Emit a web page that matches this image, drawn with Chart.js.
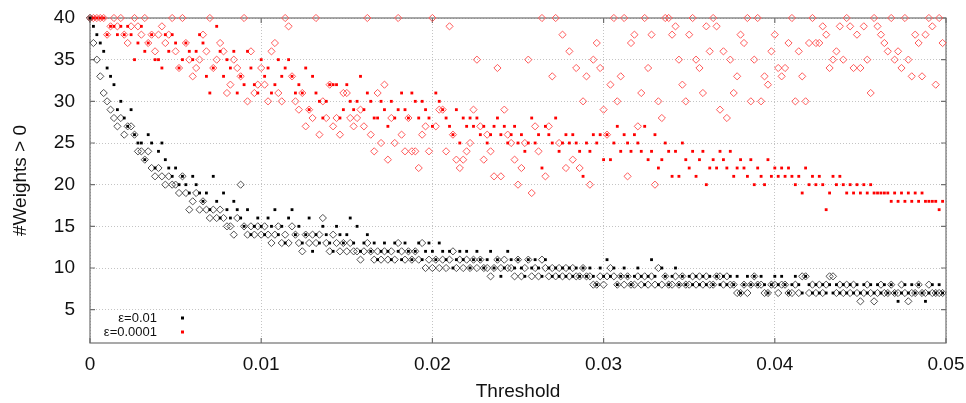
<!DOCTYPE html>
<html>
<head>
<meta charset="utf-8">
<script src="https://cdn.jsdelivr.net/npm/chart.js@4.4.1/dist/chart.umd.min.js"></script>
<style>
  body { margin: 0; background: #fff; }
  canvas { display: block; }
</style>
</head>
<body>
<canvas id="weightsChart" width="966" height="403"></canvas>
<script>
// threshold grid, in units of 0.0001
var thresholdsE4 = [
  0,2,4,6,8,10,12,14,16,18,20,22,24,26,28,30,32,34,36,38,40,42,44,46,48,
  50,52,54,56,58,60,62,64,66,68,70,72,74,76,78,80,82,84,86,88,90,92,94,96,98,
  100,102,104,106,108,110,112,114,116,118,120,122,124,126,128,130,132,134,136,138,140,142,144,146,148,
  150,152,154,156,158,160,162,164,166,168,170,172,174,176,178,180,182,184,186,188,190,192,194,196,198,
  200,202,204,206,208,210,212,214,216,218,220,222,224,226,228,230,232,234,236,238,240,242,244,246,248,
  250,252,254,256,258,260,262,264,266,268,270,272,274,276,278,280,282,284,286,288,290,292,294,296,298,
  300,302,304,306,308,310,312,314,316,318,320,322,324,326,328,330,332,334,336,338,340,342,344,346,348,
  350,352,354,356,358,360,362,364,366,368,370,372,374,376,378,380,382,384,386,388,390,392,394,396,398,
  400,402,404,406,408,410,412,414,416,418,420,422,424,426,428,430,432,434,436,438,440,442,444,446,448,
  450,452,454,456,458,460,462,464,466,468,470,472,474,476,478,480,482,484,486,488,490,492,494,496,498
];

// eps = 0.01 (small squares)
var weightsEps01 = [
  40,39,38,37,36,34,33,32,29,30,28,27,29,26,25,25,23,26,25,22,24,25,23,22,21,
  22,20,21,20,19,21,20,19,18,19,17,21,18,16,19,17,16,18,17,16,15,17,14,15,16,
  15,14,16,15,17,14,15,13,16,17,14,15,13,14,16,12,14,13,15,14,13,12,15,14,13,
  14,16,13,15,12,13,14,12,13,11,12,13,12,11,13,12,11,13,12,11,12,13,11,12,13,
  12,11,13,12,11,12,10,11,12,11,12,10,11,12,11,10,11,12,10,11,9,10,12,11,10,
  11,10,9,11,10,11,10,9,11,10,9,10,9,10,9,10,9,10,9,10,9,10,9,8,10,
  9,11,9,10,8,9,10,9,8,9,10,9,8,9,11,9,8,10,9,8,9,10,8,9,8,
  9,8,9,8,9,8,9,8,9,8,9,8,9,8,9,7,8,9,8,9,8,9,8,7,8,
  9,8,9,8,7,8,9,8,7,9,8,7,8,7,8,7,8,7,8,7,8,7,8,7,8,
  7,8,7,8,7,8,7,8,7,8,7,6,7,8,7,8,7,8,7,6,7,8,7,8,7
];
// eps = 0.01 (open diamonds)
var weightsEps01b = [
  40,37,35,33,31,30,29,28,27,28,26,27,27,26,24,24,23,24,22,21,22,21,20,21,20,
  20,19,21,19,17,18,19,17,18,17,16,17,16,17,16,15,15,14,16,20,15,14,15,14,15,
  14,15,14,13,14,15,13,14,13,15,14,13,12,14,13,14,13,14,16,13,12,14,13,12,13,
  12,13,12,12,11,12,13,12,11,12,11,12,11,12,11,13,12,11,12,11,12,11,13,10,11,
  10,11,10,11,10,11,12,10,11,10,11,10,11,10,11,10,10,9,10,11,10,11,10,10,9,
  11,9,10,11,9,10,9,11,10,9,10,9,10,9,10,9,10,9,9,10,9,9,8,8,9,
  8,9,10,9,8,9,8,9,8,8,9,8,9,8,9,8,10,8,9,8,8,9,8,9,8,
  8,9,8,9,8,9,8,8,9,9,8,9,8,8,7,7,8,7,8,9,8,8,7,7,8,
  8,7,8,8,7,7,8,7,9,9,7,8,7,8,7,8,9,9,7,8,7,8,7,8,7,
  6,7,8,7,6,7,8,7,7,8,7,7,8,7,6,7,7,8,7,7,8,7,7,7,7
];
// eps = 0.0001 (small squares)
var weightsEps0001 = [
  40,40,40,40,40,38,39,39,38,39,38,39,38,35,37,39,36,37,38,35,35,34,38,36,38,
  37,34,35,37,36,35,36,38,37,33,31,34,39,36,33,35,34,36,31,33,32,36,34,32,31,
  35,33,34,31,32,35,33,34,35,33,31,32,31,34,29,33,31,30,28,30,32,32,32,28,29,
  32,30,29,30,33,29,31,30,28,28,30,29,27,30,28,29,31,29,28,31,30,28,30,29,28,
  27,31,30,29,28,27,26,29,25,28,27,28,27,28,26,27,25,26,27,28,26,27,25,26,27,
  25,26,24,25,28,25,26,22,27,26,25,28,24,25,26,25,26,25,24,21,25,24,26,25,26,
  23,26,23,25,27,24,26,25,24,26,25,24,27,23,24,26,22,23,25,24,21,24,21,25,23,
  22,24,21,23,24,20,22,23,22,24,23,22,24,21,22,23,22,21,23,20,22,21,20,23,21,
  22,21,22,21,22,21,20,21,19,22,20,21,20,21,20,17,19,21,20,21,20,19,20,19,20,
  19,20,19,20,19,19,19,19,19,18,19,18,19,18,19,18,19,18,19,18,18,18,18,17,18
];
// eps = 0.0001 (open diamonds)
var weightsEps0001b = [
  40,40,40,40,40,38,39,40,39,40,38,37,39,40,39,38,40,37,38,36,38,39,37,38,40,
  36,34,40,37,35,33,34,35,38,36,40,34,35,37,36,31,32,35,34,33,40,30,36,31,32,
  34,32,30,36,37,31,30,40,39,33,30,29,31,27,29,28,40,26,30,28,32,27,28,26,31,
  31,28,27,28,29,27,40,26,24,31,25,32,23,28,25,40,26,24,28,24,24,22,26,27,24,
  40,27,29,29,24,39,26,23,22,23,24,25,29,35,27,23,26,24,21,34,21,29,26,25,23,
  20,22,25,35,19,27,24,40,21,27,33,40,25,38,22,36,23,34,22,30,33,20,35,37,34,
  29,26,32,40,30,33,40,21,37,38,27,31,40,34,38,20,30,28,40,40,38,39,35,32,30,
  38,40,35,34,31,39,36,40,39,29,36,28,35,31,33,38,37,40,30,35,40,30,33,32,36,
  38,34,33,34,37,40,30,36,33,30,37,40,37,37,39,38,34,35,36,39,35,40,39,34,38,
  34,39,35,31,40,39,38,37,36,40,35,36,34,40,35,33,38,37,33,38,40,39,32,40,37
];

var xTicks = [0, 0.01, 0.02, 0.03, 0.04, 0.05];
var yTicks = [5, 10, 15, 20, 25, 30, 35, 40];

var toPoints = function(ys) {
  return ys.map(function(y, i) {
    return { x: thresholdsE4[i] / 10000, y: y };
  });
};

var frameColor = "#707070";

// gnuplot style box with inward ticks on all four sides
var framePlugin = {
  id: "frame",
  beforeDatasetsDraw: function(chart) {
    var ctx = chart.ctx, a = chart.chartArea;
    var xs = chart.scales.x, ys = chart.scales.y;
    ctx.save();
    ctx.strokeStyle = frameColor;
    ctx.lineWidth = 1.2;
    ctx.strokeRect(a.left, a.top, a.right - a.left, a.bottom - a.top);
    ctx.beginPath();
    xTicks.forEach(function(v) {
      var px = xs.getPixelForValue(v);
      ctx.moveTo(px, a.bottom); ctx.lineTo(px, a.bottom - 5);
      ctx.moveTo(px, a.top); ctx.lineTo(px, a.top + 5);
    });
    yTicks.forEach(function(v) {
      var py = ys.getPixelForValue(v);
      ctx.moveTo(a.left, py); ctx.lineTo(a.left + 5, py);
      ctx.moveTo(a.right, py); ctx.lineTo(a.right - 5, py);
    });
    ctx.stroke();
    ctx.restore();
  }
};

// key in the lower left corner: label then marker
var keyPlugin = {
  id: "key",
  afterDatasetsDraw: function(chart) {
    var ctx = chart.ctx, a = chart.chartArea;
    ctx.save();
    ctx.font = '13px "Liberation Sans", Arial, sans-serif';
    ctx.textAlign = "right";
    ctx.textBaseline = "middle";
    var row = 0;
    chart.data.datasets.forEach(function(ds) {
      if (!ds.inKey) return;
      var y = a.bottom - 25 + row * 14;
      ctx.fillStyle = "#111";
      ctx.fillText(ds.label, a.left + 67, y);
      ctx.fillStyle = ds.backgroundColor;
      ctx.fillRect(a.left + 91, y - 1.5, 3, 3);
      row++;
    });
    ctx.restore();
  }
};

Chart.defaults.font.family = '"Liberation Sans", Arial, sans-serif';
Chart.defaults.color = "#111";

var ctx = document.getElementById("weightsChart");
var weightsChart = new Chart(ctx, {
  type: "scatter",
  data: {
    datasets: [
      {
        label: "\u03b5=0.01",
        inKey: true,
        data: toPoints(weightsEps01),
        pointStyle: "rect",
        pointRadius: 2,
        pointBorderWidth: 0,
        backgroundColor: "#000000",
        borderColor: "#000000",
        clip: false
      },
      {
        label: "\u03b5=0.0001",
        inKey: true,
        data: toPoints(weightsEps0001),
        pointStyle: "rect",
        pointRadius: 2,
        pointBorderWidth: 0,
        backgroundColor: "#ff0000",
        borderColor: "#ff0000",
        clip: false
      },
      {
        label: "\u03b5=0.01 (b)",
        data: toPoints(weightsEps01b),
        pointStyle: "rectRot",
        pointRadius: 3.6,
        pointBorderWidth: 1,
        backgroundColor: "rgba(0,0,0,0)",
        borderColor: "#505050",
        clip: false
      },
      {
        label: "\u03b5=0.0001 (b)",
        data: toPoints(weightsEps0001b),
        pointStyle: "rectRot",
        pointRadius: 3.6,
        pointBorderWidth: 1,
        backgroundColor: "rgba(0,0,0,0)",
        borderColor: "#ff5a5a",
        clip: false
      }
    ]
  },
  options: {
    responsive: false,
    animation: false,
    devicePixelRatio: 1,
    layout: { padding: { left: 0, right: 20, top: 18, bottom: 0 } },
    plugins: {
      legend: { display: false },
      tooltip: { enabled: false }
    },
    scales: {
      x: {
        type: "linear",
        min: 0,
        max: 0.05,
        afterFit: function(s) {
          s.height = 60;
          s.paddingLeft = 0; s.paddingRight = 0;
        },
        afterBuildTicks: function(s) {
          s.ticks = xTicks.map(function(v) { return { value: v }; });
        },
        ticks: {
          padding: 10,
          font: { size: 19 },
          callback: function(v) { return String(v); }
        },
        grid: { color: "#c4c4c4", lineWidth: 1, drawTicks: false },
        border: { display: false, dash: [1, 2] },
        title: {
          display: true,
          text: "Threshold",
          font: { size: 19 },
          padding: { top: 0, bottom: 0 }
        }
      },
      y: {
        type: "linear",
        min: 1,
        max: 40,
        afterFit: function(s) {
          s.width = 90;
          s.paddingTop = 0; s.paddingBottom = 0;
        },
        afterBuildTicks: function(s) {
          s.ticks = yTicks.map(function(v) { return { value: v }; });
        },
        ticks: {
          padding: 15,
          font: { size: 19 }
        },
        grid: { color: "#c4c4c4", lineWidth: 1, drawTicks: false },
        border: { display: false, dash: [1, 2] },
        title: {
          display: true,
          text: "#Weights > 0",
          font: { size: 19 },
          padding: { top: 9, bottom: 0 }
        }
      }
    }
  },
  plugins: [framePlugin, keyPlugin]
});
</script>
</body>
</html>
